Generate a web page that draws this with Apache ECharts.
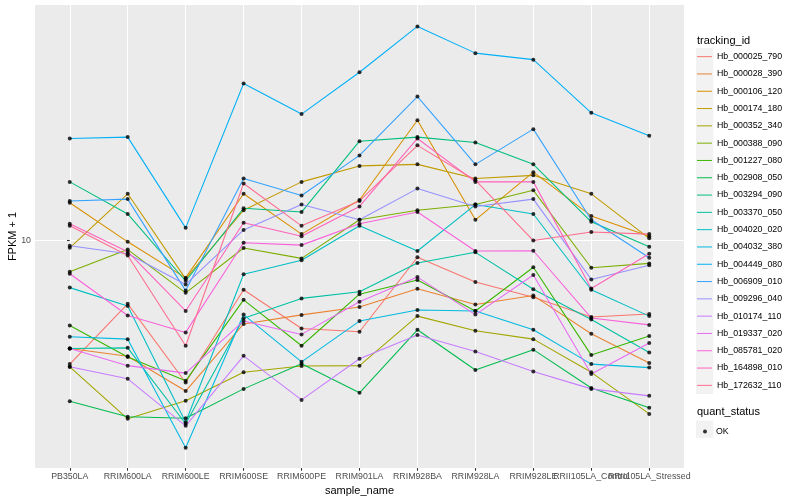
<!DOCTYPE html>
<html><head><meta charset="utf-8">
<script src="https://cdn.jsdelivr.net/npm/echarts@6/dist/echarts.min.js"></script>
<style>html,body{margin:0;padding:0;background:#fff}#c{width:800px;height:500px}</style>
</head><body><div id="c"></div>
<script>
// ---- data ----
const categories = ['PB350LA','RRIM600LA','RRIM600LE','RRIM600SE','RRIM600PE','RRIM901LA','RRIM928BA','RRIM928LA','RRIM928LE','RRII105LA_Control','RRII105LA_Stressed'];
const trackingIds = ['Hb_000025_790','Hb_000028_390','Hb_000106_120','Hb_000174_180','Hb_000352_340','Hb_000388_090','Hb_001227_080','Hb_002908_050','Hb_003294_090','Hb_003370_050','Hb_004020_020','Hb_004032_380','Hb_004449_080','Hb_006909_010','Hb_009296_040','Hb_010174_110','Hb_019337_020','Hb_085781_020','Hb_164898_010','Hb_172632_110'];
const hb_000025_790 = [5.66, 7.47, 5.20, 7.97, 6.67, 6.57, 9.26, 8.26, 7.70, 7.03, 7.13];
const hb_000028_390 = [6.08, 5.87, 5.00, 6.81, 7.10, 7.36, 8.01, 7.45, 7.76, 6.51, 5.69];
const hb_000106_120 = [11.9, 9.94, 8.42, 12.4, 10.3, 12.05, 17.4, 11.0, 13.7, 11.2, 10.2];
const hb_000174_180 = [9.67, 12.4, 8.38, 11.5, 13.1, 14.1, 14.2, 13.3, 13.5, 12.4, 10.1];
const hb_000352_340 = [5.59, 4.40, 4.78, 5.45, 5.61, 5.62, 7.06, 6.60, 6.35, 5.45, 4.50];
const hb_000388_090 = [8.66, 9.59, 7.86, 9.66, 9.21, 11.0, 11.5, 11.8, 12.6, 8.82, 9.00];
const hb_001227_080 = [6.76, 5.85, 5.24, 7.61, 6.16, 7.81, 8.34, 7.23, 8.84, 5.90, 6.44];
const hb_002908_050 = [4.77, 4.44, 4.41, 5.05, 5.67, 4.96, 6.63, 5.51, 6.05, 5.07, 4.63];
const hb_003294_090 = [13.1, 11.3, 8.30, 11.6, 11.4, 15.8, 16.1, 15.7, 14.2, 10.9, 9.72];
const hb_003370_050 = [6.08, 6.10, 4.30, 6.99, 7.66, 7.90, 9.02, 9.47, 7.99, 6.95, 5.97];
const hb_004020_020 = [8.05, 7.40, 4.33, 8.56, 9.13, 10.7, 9.53, 11.8, 11.3, 7.97, 7.06];
const hb_004032_380 = [6.42, 6.35, 3.85, 7.11, 5.72, 6.90, 7.26, 7.23, 6.63, 5.66, 5.57];
const hb_004449_080 = [16.0, 16.1, 10.6, 20.6, 17.9, 21.7, 26.8, 23.7, 23.0, 18.0, 16.2];
const hb_006909_010 = [12.0, 12.1, 7.94, 13.3, 12.3, 14.8, 19.4, 14.2, 16.7, 11.0, 9.24];
const hb_009296_040 = [9.76, 9.41, 8.17, 10.5, 11.8, 11.0, 12.7, 11.7, 12.1, 8.36, 8.92];
const hb_010174_110 = [5.59, 5.29, 4.26, 5.88, 4.80, 5.80, 6.47, 6.00, 5.47, 5.05, 4.89];
const hb_019337_020 = [6.08, 5.62, 5.43, 6.90, 6.49, 7.54, 8.45, 7.11, 8.53, 5.41, 6.24];
const hb_085781_020 = [8.58, 7.08, 6.55, 9.90, 9.79, 10.8, 11.4, 9.53, 9.54, 7.00, 6.78];
const hb_164898_010 = [10.8, 9.50, 7.23, 10.85, 10.2, 11.7, 16.0, 13.1, 13.1, 8.02, 9.41];
const hb_172632_110 = [10.7, 9.33, 6.16, 13.0, 10.7, 12.0, 15.5, 13.2, 10.0, 10.4, 10.3];
const quantStatus = ['OK'];
const yTickValues = [10];

// ---- styling ----
const seriesValues = [hb_000025_790,hb_000028_390,hb_000106_120,hb_000174_180,hb_000352_340,hb_000388_090,hb_001227_080,hb_002908_050,hb_003294_090,hb_003370_050,hb_004020_020,hb_004032_380,hb_004449_080,hb_006909_010,hb_009296_040,hb_010174_110,hb_019337_020,hb_085781_020,hb_164898_010,hb_172632_110];
const palette = ['#F8766D','#EA8331','#D89000','#C09B00','#A3A500','#7CAE00','#39B600','#00BB4E','#00BF7D','#00C1A3','#00BFC4','#00BAE0','#00B0F6','#35A2FF','#9590FF','#C77CFF','#E76BF3','#FA62DB','#FF62BC','#FF6C90'];
const FONT = 'Liberation Sans, Arial, Helvetica, sans-serif';
const X_MIN = -0.6, X_MAX = categories.length - 1 + 0.6;
const catIdx = categories.map((c, i) => i);
const labelIdx = catIdx.concat([X_MAX]); // trailing blank label keeps the last real label visible

const lineSeries = trackingIds.map((id, k) => ({
  name: id, type: 'line', symbol: 'none', showSymbol: false,
  data: seriesValues[k].map((v, i) => [i, v]),
  lineStyle: { width: 1.07, color: palette[k] },
  itemStyle: { color: palette[k] },
  emphasis: { disabled: true }, z: 2
}));
const pointSeries = {
  name: quantStatus[0], type: 'scatter', symbol: 'circle', symbolSize: 4,
  itemStyle: { color: '#000' }, emphasis: { disabled: true }, z: 3,
  data: [].concat(...seriesValues.map(vals => vals.map((v, i) => [i, v])))
};

const chart = echarts.init(document.getElementById('c'), null, { renderer: 'canvas' });
chart.setOption({
  animation: false,
  backgroundColor: '#fff',
  textStyle: { fontFamily: FONT },
  grid: { left: 35, top: 5, width: 649, height: 463, show: true, backgroundColor: '#EBEBEB', borderWidth: 0,
    containLabel: false, outerBoundsMode: 'none' },
  title: [
    { text: 'tracking_id', left: 697, top: 35, padding: 0, textStyle: { fontSize: 11, fontWeight: 'normal', color: '#000', fontFamily: FONT } },
    { text: 'quant_status', left: 697, top: 406, padding: 0, textStyle: { fontSize: 11, fontWeight: 'normal', color: '#000', fontFamily: FONT } }
  ],
  graphic: [
    { type: 'rect', left: 696, top: 48, shape: { width: 17.3, height: 346 }, style: { fill: '#F2F2F2' }, silent: true, z: -1 },
    { type: 'rect', left: 696, top: 420.5, shape: { width: 17.3, height: 17.3 }, style: { fill: '#F2F2F2' }, silent: true, z: -1 }
  ],
  legend: [
    { orient: 'vertical', left: 697, top: 48, padding: 0, itemWidth: 15, itemHeight: 1.07, itemGap: 0,
      icon: 'path://M0,0H15V1H0Z',
      selectedMode: false, data: trackingIds,
      textStyle: { fontSize: 8.8, lineHeight: 17.3, color: '#000', fontFamily: FONT } },
    { orient: 'vertical', left: 703, top: 427, padding: 0, itemWidth: 4, itemHeight: 4, itemGap: 0,
      icon: 'circle',
      selectedMode: false, data: quantStatus, formatter: '{a|{name}}',
      textStyle: { fontSize: 8.8, color: '#000', fontFamily: FONT, rich: { a: { fontSize: 8.8, padding: [0, 0, 0, 4], color: '#000', fontFamily: FONT } } } }
  ],
  xAxis: {
    type: 'value', min: X_MIN, max: X_MAX,
    name: 'sample_name', nameLocation: 'middle', nameGap: 13,
    nameTextStyle: { fontSize: 11, color: '#000', fontFamily: FONT, verticalAlign: 'top' },
    axisLine: { show: false },
    axisTick: { show: true, length: 2.75, lineStyle: { color: '#333', width: 1.07 }, customValues: catIdx },
    axisLabel: { customValues: labelIdx, hideOverlap: false,
      formatter: v => (Math.abs(v - Math.round(v)) < 1e-6 && categories[Math.round(v)]) || '',
      color: '#4D4D4D', fontSize: 8.8, margin: 4, fontFamily: FONT },
    splitLine: { show: true, lineStyle: { color: '#fff', width: 1.07 } }
  },
  yAxis: {
    type: 'log', logBase: 10, min: 3.508, max: 29.58,
    name: 'FPKM + 1', nameLocation: 'middle', nameGap: 17, nameRotate: 90, nameMoveOverlap: false,
    nameTextStyle: { fontSize: 11, color: '#000', fontFamily: FONT },
    axisLine: { show: false },
    axisTick: { show: true, length: 2.75, lineStyle: { color: '#333', width: 1.07 }, customValues: yTickValues },
    axisLabel: { customValues: yTickValues, color: '#4D4D4D', fontSize: 8.8, margin: 4, fontFamily: FONT },
    splitLine: { show: true, lineStyle: { color: '#fff', width: 1.07 } },
    minorSplitLine: { show: false }
  },
  series: [...lineSeries, pointSeries]
});
</script>
</body></html>
